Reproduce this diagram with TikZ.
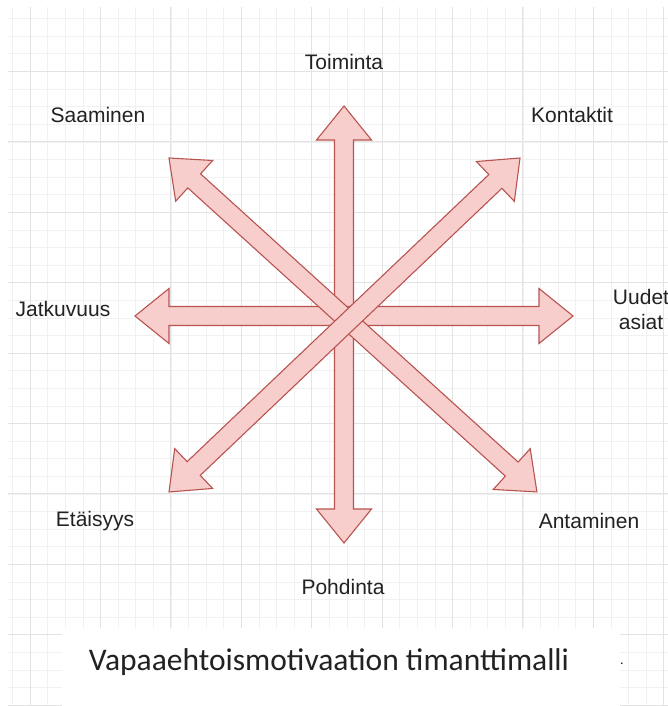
\documentclass[tikz,border=0pt]{standalone}
\usepackage{fontspec}
\setmainfont{Liberation Sans}
\newfontfamily\capfont{Carlito}
\usetikzlibrary{calc}
\definecolor{arrfill}{HTML}{F8CECC}
\definecolor{arrline}{HTML}{B85450}
\definecolor{gmajor}{HTML}{E3E3E3}
\definecolor{gminor}{HTML}{F1F1F1}
\definecolor{txt}{HTML}{222222}
\newcommand\dblarrow[2]{%
  \draw[arrowshape] let \p1=(#1), \p2=(#2),
    \n1={atan2(\y2-\y1,\x2-\x1)},
    \n2={veclen(\x2-\x1,\y2-\y1)} in
    [shift={(\p1)}, rotate=\n1]
    (0,0) -- (34,27.5) -- (34,9.5) -- ({\n2-34},9.5) -- ({\n2-34},27.5)
    -- ({\n2},0) -- ({\n2-34},-27.5) -- ({\n2-34},-9.5) -- (34,-9.5)
    -- (34,-27.5) -- cycle;}
\begin{document}
\begin{tikzpicture}[x=1pt,y=-1pt,
  arrowshape/.style={fill=arrfill, draw=arrline, line width=1.1pt, line join=miter},
  lbl/.style={font=\fontsize{21}{25}\selectfont, text=txt, inner sep=0pt, align=center},
  captxt/.style={font=\capfont\fontsize{31.5}{36}\selectfont, text=txt, inner sep=0pt}]
\useasboundingbox (0,0) rectangle (668,706);
\fill[white] (0,0) rectangle (668,706);
% grid
\begin{scope}
\clip (8,8) rectangle (668,706);
\foreach \i in {-1,...,40} {
  \draw[gminor, line width=0.6pt] ({12.4+17.6*\i},0) -- ({12.4+17.6*\i},706);
  \draw[gminor, line width=0.6pt] (0,{1+17.6*\i}) -- (668,{1+17.6*\i});
}
\foreach \i in {-1,...,10} {
  \draw[gmajor, line width=0.8pt] ({30+70.4*\i},0) -- ({30+70.4*\i},706);
  \draw[gmajor, line width=0.8pt] (0,{1+70.4*\i}) -- (668,{1+70.4*\i});
}
\end{scope}
% arrow tips
\coordinate (vT) at (344,106);
\coordinate (vB) at (344,543);
\coordinate (hL) at (135,316);
\coordinate (hR) at (573,316);
\coordinate (dNW) at (169,158);
\coordinate (dSE) at (537,492);
\coordinate (dNE) at (520,158);
\coordinate (dSW) at (169,492);
\dblarrow{vT}{vB}
\dblarrow{hL}{hR}
\dblarrow{dNW}{dSE}
\dblarrow{dNE}{dSW}
% labels
\node[lbl] (toiminta) at (344,62) {Toiminta};
\node[lbl] (saaminen) at (98,115) {Saaminen};
\node[lbl] (kontaktit) at (572,115) {Kontaktit};
\node[lbl] (jatkuvuus) at (63,309) {Jatkuvuus};
\node[lbl] (uudet) at (641,309) {Uudet\\asiat};
\node[lbl] (etaisyys) at (95,521) {Etäisyys};
\node[lbl] (antaminen) at (589,521) {Antaminen};
\node[lbl] (pohdinta) at (343,587) {Pohdinta};
% caption
\fill[white] (62,628) rectangle (620,706);
\node[captxt] (caption) at (329,662) {Vapaaehtoismotivaation timanttimalli};
\node[captxt, font=\capfont\fontsize{14}{16}\selectfont] (dot) at (622,664) {.};
\end{tikzpicture}
\end{document}
